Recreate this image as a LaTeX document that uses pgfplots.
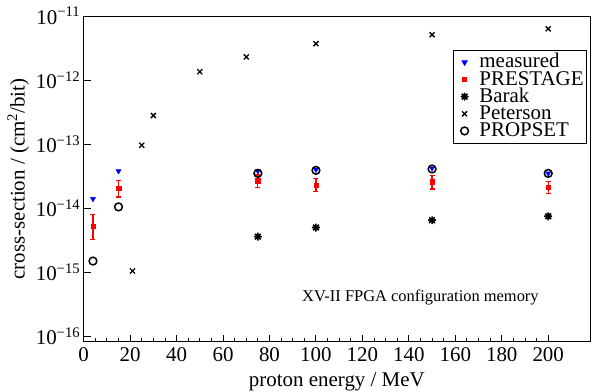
\documentclass[border=0pt]{standalone}
\usepackage{fontspec}
\setmainfont{Liberation Serif}
\usepackage{pgfplots}
\pgfplotsset{compat=1.18}

\pgfdeclareplotmark{barak}{%
  \pgfpathmoveto{\pgfqpoint{-\pgfplotmarksize}{0pt}}\pgfpathlineto{\pgfqpoint{\pgfplotmarksize}{0pt}}%
  \pgfpathmoveto{\pgfqpoint{0pt}{-\pgfplotmarksize}}\pgfpathlineto{\pgfqpoint{0pt}{\pgfplotmarksize}}%
  \pgfpathmoveto{\pgfqpoint{-.7071\pgfplotmarksize}{-.7071\pgfplotmarksize}}\pgfpathlineto{\pgfqpoint{.7071\pgfplotmarksize}{.7071\pgfplotmarksize}}%
  \pgfpathmoveto{\pgfqpoint{-.7071\pgfplotmarksize}{.7071\pgfplotmarksize}}\pgfpathlineto{\pgfqpoint{.7071\pgfplotmarksize}{-.7071\pgfplotmarksize}}%
  \pgfusepathqstroke}

\pgfplotstableread{
x y
4 1.4e-14
15 3.8e-14
75 3.8e-14
100 4.0e-14
150 4.2e-14
200 3.5e-14
}\measured

\pgfplotstableread{
x y ep em
4 5.2e-15 2.9e-15 1.9e-15
15 2.05e-14 0.65e-14 0.55e-14
75 2.7e-14 0.6e-14 0.6e-14
100 2.3e-14 0.6e-14 0.5e-14
150 2.6e-14 0.6e-14 0.6e-14
200 2.15e-14 0.5e-14 0.45e-14
}\prestage

\pgfplotstableread{
x y
75 3.6e-15
100 5.0e-15
150 6.5e-15
200 7.5e-15
}\barak

\pgfplotstableread{
x y
21 1.05e-15
25 9.6e-14
30 2.8e-13
50 1.35e-12
70 2.3e-12
100 3.7e-12
150 5.1e-12
200 6.3e-12
}\peterson

\pgfplotstableread{
x y
4 1.5e-15
15 1.05e-14
75 3.5e-14
100 3.9e-14
150 4.1e-14
200 3.5e-14
}\propset

\begin{document}
\begin{tikzpicture}
\begin{axis}[
  scale only axis, width=508pt, height=327pt,
  ymode=log, log basis y=10,
  xmin=0, xmax=218, ymin=8.2e-17, ymax=1e-11,
  xtick={0,20,...,200}, minor x tick num=3,
  ytick={1e-16,1e-15,1e-14,1e-13,1e-12,1e-11},
  yticklabels={10\textsuperscript{−16},10\textsuperscript{−15},10\textsuperscript{−14},10\textsuperscript{−13},10\textsuperscript{−12},10\textsuperscript{−11}},
  tick pos=left, tick align=inside,
  major tick length=7pt, minor tick length=4pt,
  every tick/.style={black, line width=0.9pt},
  axis line style={line width=1pt},
  /pgf/number format/assume math mode=true,
  tick label style={font=\fontsize{21}{25}\selectfont},
  xticklabel style={yshift=-2pt},
  label style={font=\fontsize{21}{25}\selectfont},
  xlabel={proton energy / MeV},
  ylabel={cross-section / (cm\textsuperscript{2}/bit)},
  xlabel style={inner ysep=0.5pt, yshift=-7.5pt},
  legend style={at={(0.994,0.896)}, anchor=north east, draw=black, line width=0.8pt,
    font=\fontsize{21}{21}\selectfont, row sep=0pt, column sep=9pt,
    inner xsep=2.5pt, inner ysep=3.5pt,
    nodes={inner sep=0.5pt, text height=13.7pt, text depth=2.5pt}},
  legend image code/.code={\path (0pt,0pt) (13pt,0pt); \draw[#1] plot coordinates {(8pt,0pt)};},
  legend cell align=left,
  clip=false,
]
\addplot[only marks, blue, mark=triangle*, mark options={rotate=180, scale=1.5}] table[x=x,y=y]{\measured};
\addlegendentry{measured}
\addplot[only marks, red, mark=square*, mark size=2.2pt,
  error bars/.cd, y dir=both, y explicit, error bar style={red, line width=1.2pt},
  error mark options={red, rotate=90, mark size=2.5pt, line width=1.2pt}]
  table[x=x,y=y,y error plus=ep,y error minus=em]{\prestage};
\addlegendentry{PRESTAGE}
\addplot[only marks, black, mark=barak, mark size=4pt, mark options={line width=1.6pt}] table[x=x,y=y]{\barak};
\addlegendentry{Barak}
\addplot[only marks, black, mark=x, mark size=3.6pt, mark options={line width=1.3pt}] table[x=x,y=y]{\peterson};
\addlegendentry{Peterson}
\addplot[only marks, black, mark=o, mark size=3.9pt, mark options={line width=1.5pt}] table[x=x,y=y]{\propset};
\addlegendentry{PROPSET}
\node[font=\fontsize{16.5}{20}\selectfont] at (axis cs:145,4e-16) {XV-II FPGA configuration memory};
\path (rel axis cs:1,1) ++(6pt,0pt);
\end{axis}
\path ([xshift=-4pt]current bounding box.west);
\path ([yshift=4pt]current bounding box.north);
\end{tikzpicture}
\end{document}
